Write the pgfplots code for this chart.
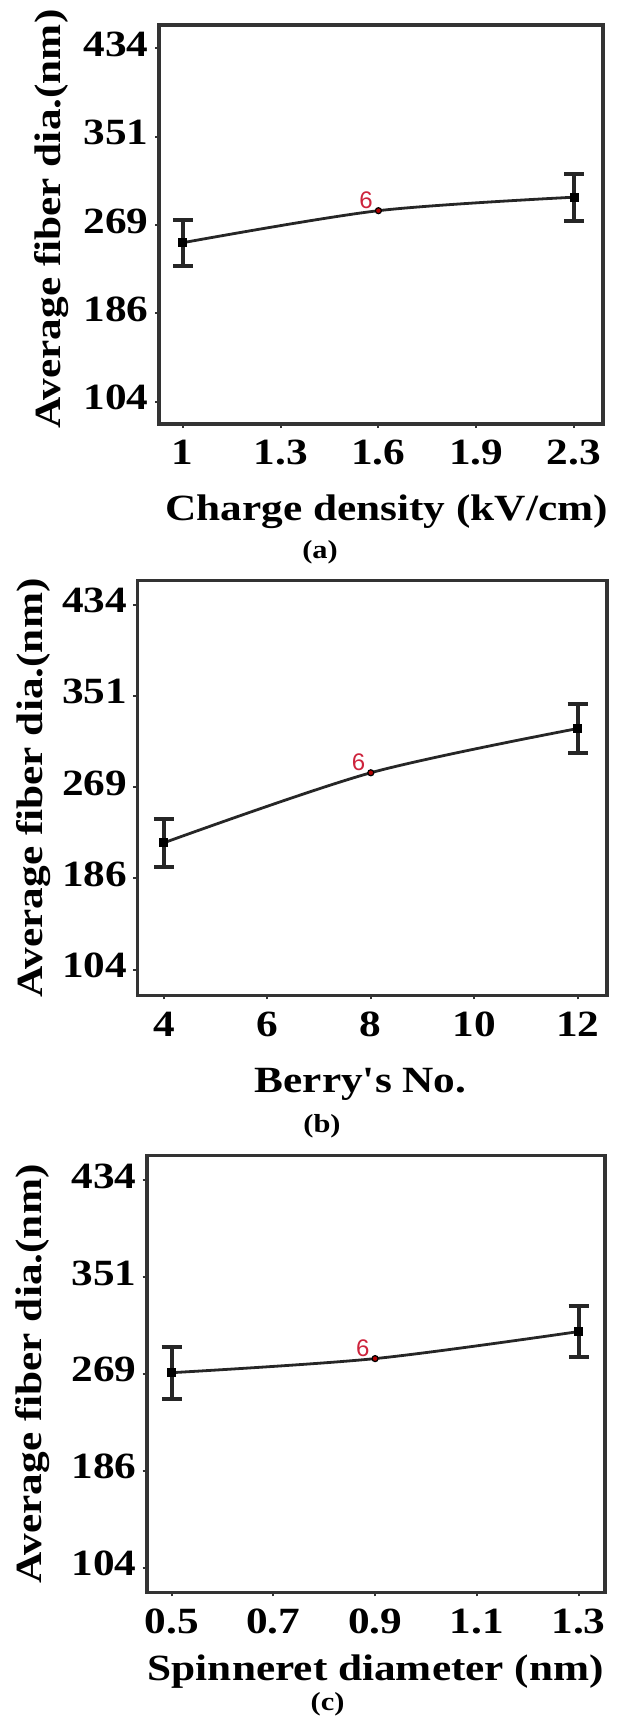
\documentclass[border=0pt]{standalone}
\usepackage{fontspec}
\setmainfont{Liberation Serif}[FakeStretch=1.17]
\newfontfamily\plainserif{Liberation Serif}[FakeStretch=1.17]
\newfontfamily\sixfam{Liberation Sans}
\usepackage{pgfplots}
\pgfplotsset{compat=1.18}
\definecolor{sixred}{RGB}{205,35,60}
\newcommand\tl{\fontsize{18.5}{20}\selectfont\bfseries}
\newcommand\lab{\fontsize{18.5}{20}\selectfont\bfseries}
\newcommand\capf{\fontsize{13}{14}\selectfont\bfseries}
\newcommand\sixf{\sixfam\fontsize{12}{12}\selectfont}
\pgfplotsset{
  common/.style={
    scale only axis, anchor=north west,
    axis line style={line width=1.8pt, black!80},
    tick align=outside, xtick pos=bottom, ytick pos=left,
    major tick length=2pt,
    every tick/.style={black!80, line width=1pt},
    ytick={104,186.5,269,351.5,434},
    yticklabels={104,186,269,351,434},
    /pgf/number format/assume math mode=true,
    ticklabel style={font=\tl},
    yticklabel style={anchor=east, inner sep=0pt, xshift=-3pt, yshift=2pt},
    xticklabel style={anchor=north, inner sep=0pt, yshift=-6pt},
    xlabel style={font=\lab, anchor=base},
    ylabel style={font=\lab, anchor=base},
    ylabel={Average fiber dia.(nm)},
    clip=false,
  },
  curve/.style={smooth, no marks, line width=1.4pt, black!85},
  pts/.style={only marks, mark=square*, mark size=2pt, black,
    error bars/.cd, y dir=both, y explicit,
    error bar style={line width=2pt, black!85},
    error mark options={rotate=90, mark size=5pt, line width=2pt, black!85}},
  ctr/.style={only marks, mark=*, mark size=1.5pt,
    mark options={draw=black, fill=red!70!black, line width=0.6pt},
    nodes near coords={6},
    every node near coord/.append style={text=sixred, font=\sixf, anchor=base east, inner sep=0pt, xshift=-2.5pt, yshift=1pt}},
}
\begin{document}
\begin{tikzpicture}
\useasboundingbox (0,0) rectangle (309.5pt,-858.5pt);
% (a)
\begin{axis}[common, at={(79.5pt,-12.5pt)}, width=221.85pt, height=199.5pt,
  xmin=0.927, xmax=2.288, ymin=83.2, ymax=455.8,
  xtick={1,1.3,1.6,1.9,2.2}, xticklabels={1,1.3,1.6,1.9,2.3},
  xlabel={Charge density (kV/cm)},
  xlabel style={at={(axis description cs:0.513,-0.2406)}},
  ylabel style={at={(axis description cs:-0.2231,0.514)}}]
\addplot[curve] coordinates {(1,252.5) (1.6,282.4) (2.2,295)};
\addplot[pts] coordinates {(1,252.5) +- (0,21.5) (2.2,295) +- (0,22)};
\addplot[ctr] coordinates {(1.6,282.4)};
\end{axis}
\node[font=\capf] at (160pt,-276pt) {(a)};
% (b)
\begin{axis}[common, at={(68.75pt,-290.15pt)}, width=234.6pt, height=207.55pt,
  xmin=3.49, xmax=12.56, ymin=80.7, ymax=456,
  xtick={4,6,8,10,12},
  xlabel={Berry{\plainserif\bfseries '}s No.},
  xlabel style={at={(axis description cs:0.4755,-0.2349)}},
  ylabel style={at={(axis description cs:-0.2035,0.5)}}]
\addplot[curve] coordinates {(4,218.7) (8,282) (12,322)};
\addplot[pts] coordinates {(4,218.7) +- (0,21.5) (12,322) +- (0,22)};
\addplot[ctr] coordinates {(8,282)};
\end{axis}
\node[font=\capf] at (161pt,-563.2pt) {(b)};
% (c)
\begin{axis}[common, at={(73.35pt,-577.7pt)}, width=229.15pt, height=218.45pt,
  xmin=0.451, xmax=1.352, ymin=83, ymax=455,
  xtick={0.5,0.7,0.9,1.1,1.3}, xticklabels={0.5,0.7,0.9,1.1,1.3},
  xlabel={Spinneret diameter (nm)},
  xlabel style={at={(axis description cs:0.5,-0.2007)}},
  ylabel style={at={(axis description cs:-0.2291,0.5)}}]
\addplot[curve] coordinates {(0.5,270) (0.9,282) (1.3,305)};
\addplot[pts] coordinates {(0.5,270) +- (0,22) (1.3,305) +- (0,22)};
\addplot[ctr] coordinates {(0.9,282)};
\end{axis}
\node[font=\capf] at (163.75pt,-852pt) {(c)};
\end{tikzpicture}
\end{document}
